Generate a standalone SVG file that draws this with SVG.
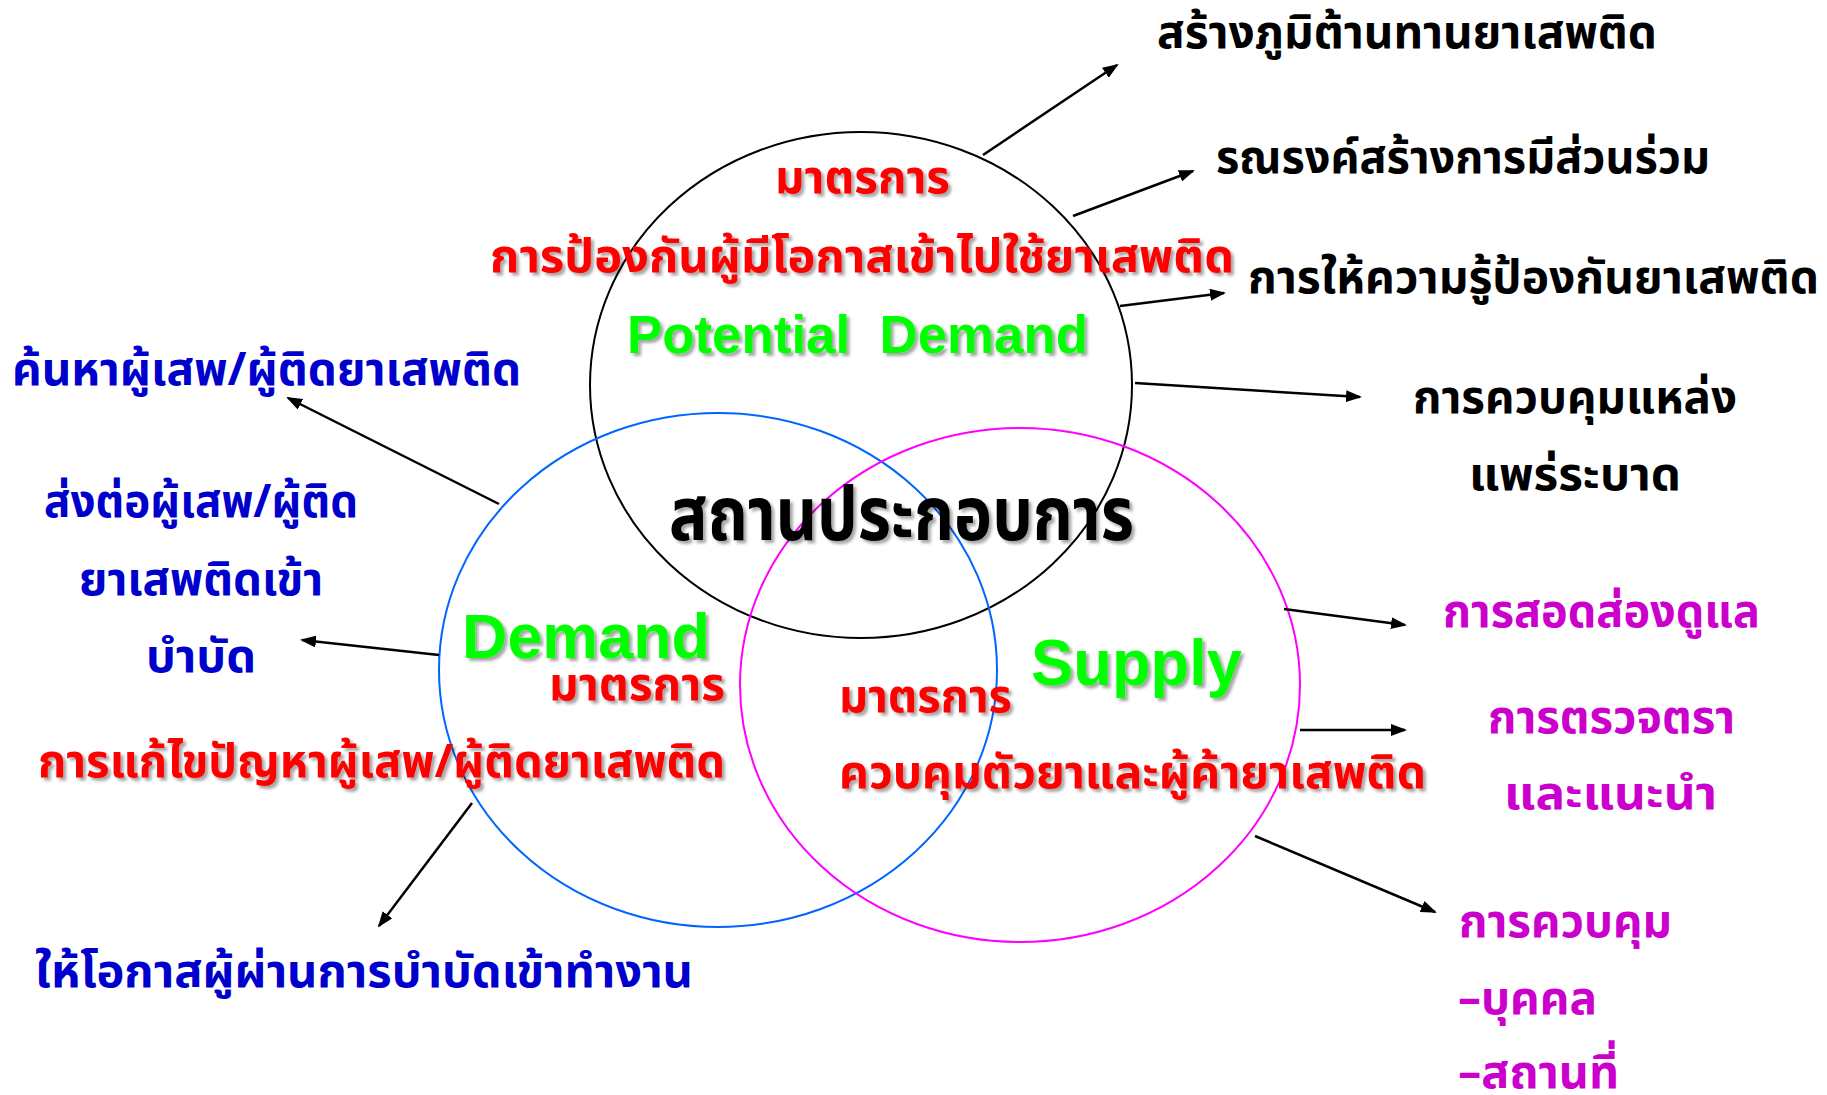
<svg xmlns="http://www.w3.org/2000/svg" width="1827" height="1095" viewBox="0 0 1827 1095">
<defs>
<style>
.t{font-family:"Noto Sans Thai","Noto Sans","DejaVu Sans","Liberation Sans",sans-serif;font-weight:bold;font-size:46px}
.big{font-size:74px}
.k{fill:#000000}
.b{fill:#0000CC}
.m{fill:#CC00CC}
.r{fill:#FF0000;filter:url(#sh)}
.ks{fill:#000000;filter:url(#sh)}
.g{fill:#00FF00;font-family:"Liberation Sans",Arial,sans-serif;font-weight:bold;filter:url(#sh)}
.c{fill:none;stroke-width:2}
.a{stroke:#000000;stroke-width:2.5;fill:none;marker-end:url(#ah)}
</style>
<marker id="ah" viewBox="0 0 16 12" refX="14" refY="6" markerWidth="16" markerHeight="12" markerUnits="userSpaceOnUse" orient="auto">
<path d="M0,0 L16,6 L0,12 z" fill="#000000"/>
</marker>
<filter id="sh" x="-5%" y="-20%" width="115%" height="160%">
<feDropShadow dx="3" dy="3" stdDeviation="1.5" flood-color="#000000" flood-opacity="0.35"/>
</filter>
</defs>
<rect width="1827" height="1095" fill="#ffffff"/>

<g id="circle-potential-demand">
<ellipse class="c" cx="861" cy="385" rx="271" ry="253" stroke="#000000"/>
<text class="t r" x="775" y="193" textLength="175" lengthAdjust="spacingAndGlyphs">มาตรการ</text>
<text class="t r" x="490" y="272" textLength="744" lengthAdjust="spacingAndGlyphs">การป้องกันผู้มีโอกาสเข้าไปใช้ยาเสพติด</text>
<text class="g" x="627" y="353" font-size="53" textLength="461" lengthAdjust="spacingAndGlyphs">Potential&#160; Demand</text>
</g>

<g id="circle-demand">
<ellipse class="c" cx="718" cy="670" rx="279" ry="257" stroke="#0066FF"/>
<text class="g" x="462" y="658" font-size="63" textLength="248" lengthAdjust="spacingAndGlyphs">Demand</text>
<text class="t r" x="549" y="700" textLength="176" lengthAdjust="spacingAndGlyphs">มาตรการ</text>
<text class="t r" x="38" y="777" textLength="687" lengthAdjust="spacingAndGlyphs">การแก้ไขปัญหาผู้เสพ/ผู้ติดยาเสพติด</text>
</g>

<g id="circle-supply">
<ellipse class="c" cx="1020" cy="685" rx="280" ry="257" stroke="#FF00FF"/>
<text class="g" x="1031" y="685" font-size="65" textLength="211" lengthAdjust="spacingAndGlyphs">Supply</text>
<text class="t r" x="839" y="712" textLength="173" lengthAdjust="spacingAndGlyphs">มาตรการ</text>
<text class="t r" x="839" y="788" textLength="587" lengthAdjust="spacingAndGlyphs">ควบคุมตัวยาและผู้ค้ายาเสพติด</text>
</g>

<g id="center-label">
<text class="t big ks" x="669" y="540" textLength="465" lengthAdjust="spacingAndGlyphs">สถานประกอบการ</text>
</g>

<g id="connectors">
<line class="a" x1="983" y1="155" x2="1117" y2="65"/>
<line class="a" x1="1073" y1="216" x2="1193" y2="171"/>
<line class="a" x1="1120" y1="306" x2="1224" y2="293"/>
<line class="a" x1="1135" y1="383" x2="1360" y2="397"/>
<line class="a" x1="1284" y1="609" x2="1405" y2="625"/>
<line class="a" x1="1300" y1="730" x2="1405" y2="730"/>
<line class="a" x1="1255" y1="836" x2="1435" y2="912"/>
<line class="a" x1="499" y1="504" x2="288" y2="398"/>
<line class="a" x1="439" y1="655" x2="302" y2="640"/>
<line class="a" x1="472" y1="803" x2="379" y2="926"/>
</g>

<g id="node-resistance"><text class="t k" x="1157" y="48" textLength="500" lengthAdjust="spacingAndGlyphs">สร้างภูมิต้านทานยาเสพติด</text></g>
<g id="node-campaign"><text class="t k" x="1216" y="173" textLength="494" lengthAdjust="spacingAndGlyphs">รณรงค์สร้างการมีส่วนร่วม</text></g>
<g id="node-education"><text class="t k" x="1248" y="293" textLength="571" lengthAdjust="spacingAndGlyphs">การให้ความรู้ป้องกันยาเสพติด</text></g>
<g id="node-source-control">
<text class="t k" x="1413" y="413" textLength="324" lengthAdjust="spacingAndGlyphs">การควบคุมแหล่ง</text>
<text class="t k" x="1469" y="490" textLength="212" lengthAdjust="spacingAndGlyphs">แพร่ระบาด</text>
</g>
<g id="node-surveillance"><text class="t m" x="1443" y="627" textLength="317" lengthAdjust="spacingAndGlyphs">การสอดส่องดูแล</text></g>
<g id="node-inspection">
<text class="t m" x="1488" y="733" textLength="247" lengthAdjust="spacingAndGlyphs">การตรวจตรา</text>
<text class="t m" x="1504" y="809" textLength="213" lengthAdjust="spacingAndGlyphs">และแนะนำ</text>
</g>
<g id="node-control">
<text class="t m" x="1459" y="937" textLength="213" lengthAdjust="spacingAndGlyphs">การควบคุม</text>
<text class="t m" x="1458" y="1014" textLength="139" lengthAdjust="spacingAndGlyphs">–บุคคล</text>
<text class="t m" x="1458" y="1088" textLength="161" lengthAdjust="spacingAndGlyphs">–สถานที่</text>
</g>
<g id="node-search"><text class="t b" x="12" y="385" textLength="509" lengthAdjust="spacingAndGlyphs">ค้นหาผู้เสพ/ผู้ติดยาเสพติด</text></g>
<g id="node-refer">
<text class="t b" x="44" y="517" textLength="314" lengthAdjust="spacingAndGlyphs">ส่งต่อผู้เสพ/ผู้ติด</text>
<text class="t b" x="79" y="595" textLength="244" lengthAdjust="spacingAndGlyphs">ยาเสพติดเข้า</text>
<text class="t b" x="146" y="672" textLength="110" lengthAdjust="spacingAndGlyphs">บำบัด</text>
</g>
<g id="node-employment"><text class="t b" x="35" y="987" textLength="658" lengthAdjust="spacingAndGlyphs">ให้โอกาสผู้ผ่านการบำบัดเข้าทำงาน</text></g>
</svg>
